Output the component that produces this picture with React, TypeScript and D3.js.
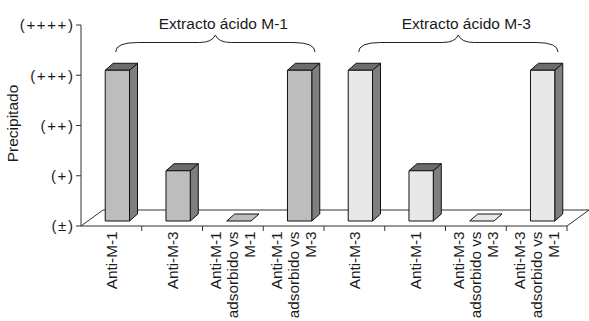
import React from "react";
import * as d3 from "d3";

const categoryLines: string[][] = [
  ["Anti-M-1"],
  ["Anti-M-3"],
  ["Anti-M-1", "adsorbido vs", "M-1"],
  ["Anti-M-1", "adsorbido vs", "M-3"],
  ["Anti-M-3"],
  ["Anti-M-1"],
  ["Anti-M-3", "adsorbido vs", "M-3"],
  ["Anti-M-3", "adsorbido vs", "M-1"],
];
const values = [3, 1, 0, 3, 3, 1, 0, 3];
const groupOf = [0, 0, 0, 0, 1, 1, 1, 1];
const groupTitles = ["Extracto ácido M-1", "Extracto ácido M-3"];
const tickValues = [0, 1, 2, 3, 4];
const tickLabels = ["(±)", "(+)", "(++)", "(+++)", "(++++)"];
const yTitle = "Precipitado";

const W = 589;
const H = 321;
const FONT = "'Liberation Sans', Arial, sans-serif";
const frontFill = ["#bdbdbd", "#e8e8e8"];
const sideFill = "#7f7f7f";
const topFill = "#6c6c6c";

export default function App() {
  const x = d3.scaleBand<number>().domain(d3.range(values.length)).range([81, 567]).padding(0);
  const y = d3.scaleLinear().domain([0, 4]).range([226, 25]);
  const bw = x.bandwidth();
  const y0 = y(0);
  const floorD = [22, -16];
  const barOff = [6, -5];
  const barD = [8, -7];
  const barW = bw * 0.4;

  const floorPts = [
    [x.range()[0], y0],
    [x.range()[1], y0],
    [x.range()[1] + floorD[0], y0 + floorD[1]],
    [x.range()[0] + floorD[0], y0 + floorD[1]],
  ];

  const groups = d3.range(groupTitles.length).map((g) => {
    const idx = d3.range(values.length).filter((i) => groupOf[i] === g);
    const first = idx[0];
    const last = idx[idx.length - 1];
    const x0 = (x(first) as number) + bw * 0.57;
    const x1 = (x(last) as number) + bw - 9;
    return { g, x0, x1, xm: (x0 + x1) / 2 };
  });

  const bracePath = (x0: number, x1: number, xm: number) => {
    const yEnd = 52;
    const yArm = 42.5;
    const yPeak = 35;
    return `M${x0},${yEnd} Q${x0},${yArm} ${x0 + 22},${yArm} L${xm - 16},${yArm} Q${xm - 3},${yArm} ${xm},${yPeak} Q${xm + 3},${yArm} ${xm + 16},${yArm} L${x1 - 22},${yArm} Q${x1},${yArm} ${x1},${yEnd}`;
  };

  return (
    <svg width={W} height={H} style={{ position: "absolute", left: 0, top: 0, background: "#fff" }} fontFamily={FONT}>
      {/* floor */}
      <polygon points={floorPts.map((p) => p.join(",")).join(" ")} fill="#fff" stroke="#333" strokeWidth={1} />
      {/* y axis */}
      <line x1={81} x2={81} y1={y(4)} y2={y0} stroke="#333" strokeWidth={1} />
      {tickValues.map((t, i) => (
        <g key={t}>
          <line x1={76} x2={81} y1={y(t)} y2={y(t)} stroke="#333" />
          <text x={74.5} y={y(t)} dy="0.35em" textAnchor="end" fontSize={15} letterSpacing={1.6} fill="#1a1a1a">
            {tickLabels[i]}
          </text>
        </g>
      ))}
      <text transform={`translate(18,${(y(4) + y0) / 2 - 2}) rotate(-90)`} textAnchor="middle" fontSize={15.5} fill="#1a1a1a">
        {yTitle}
      </text>
      {/* x axis ticks */}
      {d3.range(1, values.length + 1).map((i) => {
        const xx = (x.range()[0] as number) + i * bw;
        return <line key={i} x1={xx} x2={xx} y1={y0} y2={y0 + 5} stroke="#333" />;
      })}
      {/* bars */}
      {values.map((v, i) => {
        const xl = (x(i) as number) + bw / 2 - barW / 2 + barOff[0];
        const xr = xl + barW;
        const yb = y0 + barOff[1];
        const yt = y(v) + barOff[1];
        const fill = frontFill[groupOf[i]];
        if (v === 0) {
          const pts = [
            [xl, yb],
            [xr, yb],
            [xr + barD[0], yb + barD[1]],
            [xl + barD[0], yb + barD[1]],
          ];
          return <polygon key={i} points={pts.map((p) => p.join(",")).join(" ")} fill={fill} stroke="#111" strokeWidth={1} />;
        }
        const side = [
          [xr, yt],
          [xr + barD[0], yt + barD[1]],
          [xr + barD[0], yb + barD[1]],
          [xr, yb],
        ];
        const top = [
          [xl, yt],
          [xl + barD[0], yt + barD[1]],
          [xr + barD[0], yt + barD[1]],
          [xr, yt],
        ];
        return (
          <g key={i} stroke="#111" strokeWidth={1} strokeLinejoin="round">
            <polygon points={side.map((p) => p.join(",")).join(" ")} fill={sideFill} />
            <polygon points={top.map((p) => p.join(",")).join(" ")} fill={topFill} />
            <rect x={xl} y={yt} width={barW} height={yb - yt} fill={fill} />
          </g>
        );
      })}
      {/* category labels */}
      {categoryLines.map((lines, i) => {
        const c = (x(i) as number) + bw / 2;
        return lines.map((ln, k) => {
          const bx = c + 5.5 + (k - (lines.length - 1) / 2) * 17;
          return (
            <text key={`${i}-${k}`} transform={`translate(${bx},231.5) rotate(-90)`} textAnchor="end" fontSize={15.3} fill="#1a1a1a">
              {ln}
            </text>
          );
        });
      })}
      {/* group braces */}
      {groups.map((gr) => (
        <g key={gr.g}>
          <path d={bracePath(gr.x0, gr.x1, gr.xm)} fill="none" stroke="#222" strokeWidth={1} />
          <text x={gr.xm + 8} y={29} textAnchor="middle" fontSize={15.5} fill="#1a1a1a">
            {groupTitles[gr.g]}
          </text>
        </g>
      ))}
    </svg>
  );
}
